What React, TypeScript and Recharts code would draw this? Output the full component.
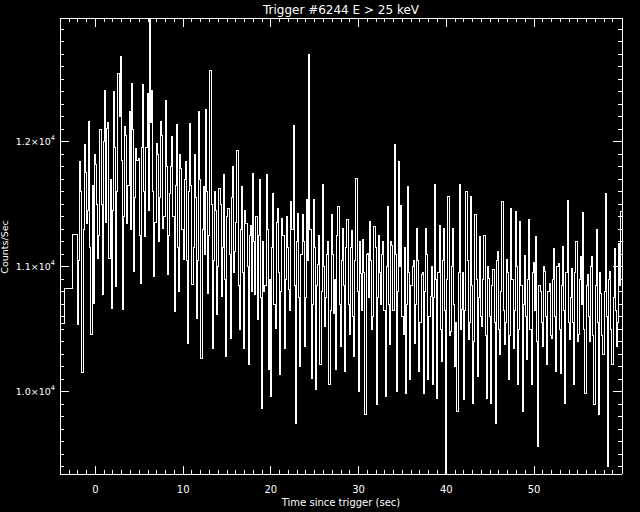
import React from 'react';
import { LineChart, Line, XAxis, YAxis } from 'recharts';

const FONT = '"DejaVu Sans", sans-serif';

// pre-trigger 1.024 s bins (start times) and their rates
const preTimes = [-4.608, -3.584, -2.56];
const preCounts = [10547, 10827, 11254];

// 0.128 s bins from -2.048 s on
const BIN_START = -2.048;
const BIN_WIDTH = 0.128;
const counts = [
  10533, 11050, 11840, 11600, 10152, 11300, 11974, 11750, 11347, 11450, 12165, 11150, 10453, 11650, 10707, 11900, 11814, 11500, 11067, 11250,
  12099, 11500, 10773, 12000, 12413, 11350, 12107, 12150, 11067, 11700, 10667, 11450, 12400, 11950, 10840, 11600, 12547, 12200, 12680, 11850,
  10653, 11400, 12120, 12050, 11347, 11650, 12240, 11300, 12467, 12100, 10960, 11550, 11947, 11850, 11867, 11250, 10867, 11950, 12454, 11600,
  11240, 11950, 12387, 11450, 12987, 12150, 12413, 11600, 10920, 11350, 11987, 11900, 11200, 11550, 12165, 12050, 11307, 11400, 12333, 11800,
  10934, 11250, 11582, 11800, 12040, 11400, 10640, 11650, 12134, 11150, 10800, 11900, 11787, 11300, 11053, 11700, 11840, 11050, 10387, 11600,
  12147, 11650, 10854, 11150, 11894, 11550, 10587, 11050, 12240, 11700, 10267, 11300, 11640, 11100, 12259, 11600, 10787, 11250, 12573, 11500,
  10347, 11050, 11600, 11450, 10614, 11000, 11627, 11500, 10760, 11150, 11739, 10900, 10280, 11400, 11467, 11100, 10427, 11550, 11800, 10950,
  11120, 11350, 11933, 10850, 10493, 11300, 11640, 10950, 10347, 11450, 11347, 11000, 10213, 11250, 11333, 10800, 11747, 11200, 10774, 11400,
  10574, 11250, 11694, 10750, 9867, 11200, 10800, 10850, 11741, 11300, 10173, 10900, 9960, 11150, 11582, 10700, 10507, 11350, 11467, 10950,
  10133, 10800, 11387, 11250, 10347, 10900, 11400, 11150, 10814, 10650, 11520, 11300, 12133, 10850, 9747, 11200, 11427, 10750, 10200, 11100,
  11414, 11200, 10360, 10750, 11534, 11050, 12694, 11300, 10107, 10700, 11534, 11150, 10013, 10850, 11013, 11250, 10213, 10800, 11659, 11000,
  10520, 10750, 11093, 11200, 10053, 10650, 11414, 11100, 10627, 10900, 10173, 11250, 11480, 10700, 10360, 11050, 11307, 10850, 10160, 11150,
  11381, 10700, 10453, 11150, 11293, 10600, 10280, 11050, 11707, 10800, 10000, 11200, 10947, 10650, 11221, 10950, 9814, 11100, 11107, 10750,
  11365, 11050, 10493, 10600, 11320, 11150, 9894, 10750, 11253, 10950, 10694, 11100, 11200, 10650, 9960, 11000, 11480, 10700, 10373, 11200,
  11173, 10650, 11974, 11100, 10000, 10800, 11840, 11000, 11493, 10600, 10453, 11150, 9987, 10700, 11645, 10950, 10094, 10850, 11000, 11050,
  10387, 10700, 11307, 11050, 10160, 10550, 10934, 10950, 9987, 10800, 11307, 11100, 10094, 10600, 10760, 11000, 10053, 10750, 11661, 10900,
  9947, 10950, 11333, 10500, 10240, 11050, 11307, 10650, 9345, 10900, 11560, 10450, 10480, 11000, 11307, 10700, 10200, 10550, 9840, 10950,
  11661, 10500, 10654, 10950, 9934, 10650, 11600, 11050, 10413, 10550, 11565, 10850, 9907, 10400, 11414, 10900, 10120, 10750, 11240, 10600,
  10520, 10900, 11253, 10450, 9947, 11000, 10907, 10600, 9907, 10850, 10974, 10550, 9747, 11050, 11120, 10500, 10293, 10800, 11520, 10650,
  10373, 10550, 11053, 10950, 10094, 10450, 11467, 10900, 10347, 10650, 11445, 11000, 10053, 10500, 11365, 10850, 9840, 10700, 11088, 10600,
  10253, 10900, 11381, 10500, 10053, 10950, 11035, 10650, 11240, 10400, 9560, 10850, 10800, 10550, 10360, 11000, 10960, 10600, 10213, 10800,
  10867, 10450, 10427, 10900, 11147, 10600, 10160, 11000, 11027, 10500, 10147, 10850, 11160, 10650, 9907, 10950, 11526, 10550, 10413, 10750,
  10987, 10550, 10053, 10950, 11200, 10400, 10454, 10900, 11080, 10700, 11432, 10500, 9987, 10850, 10934, 10600, 10400, 11000, 11080, 10450,
  9893, 10850, 11299, 10550, 9814, 10950, 10787, 10450, 10293, 10800, 11582, 10600, 9400, 10900, 10960, 10500, 10213, 10750, 11147, 10650,
  10360, 10550, 11187, 10850, 11440, 10700,
];

const X_DOMAIN = [-4.04, 60.03];
const Y_DOMAIN = [9340, 12990];
const xMajor = [0, 10, 20, 30, 40, 50];
const yMajor = [10000, 11000, 12000];

const range = (a: number, b: number, s: number) =>
  Array.from({ length: Math.round((b - a) / s) + 1 }, (_, i) => a + i * s);
const xMinor = range(-3, 59, 1);
const yMinor = range(9400, 12900, 100);

const data = [
  ...preTimes.map((t, i) => ({ t, v: preCounts[i] })),
  ...counts.map((v, i) => ({ t: BIN_START + i * BIN_WIDTH, v })),
  { t: BIN_START + counts.length * BIN_WIDTH, v: counts[counts.length - 1] },
];

// tick marks point into the plot; majors are longer, labels only on bottom/left
const XTick = ({ x, y, payload, side }: any) => {
  const major = xMajor.includes(payload.value);
  const len = major ? 8.5 : 4;
  const dir = side === 'top' ? 1 : -1;
  return (
    <g>
      <line x1={x} x2={x} y1={y} y2={y + dir * len} stroke="#fff" />
      {side === 'bottom' && major && (
        <text x={x} y={y + 19} textAnchor="middle" fill="#fff" fontSize={10} fontFamily={FONT}>
          {payload.value}
        </text>
      )}
    </g>
  );
};

const YTick = ({ x, y, payload, side }: any) => {
  const major = yMajor.includes(payload.value);
  const len = major ? 9 : 4;
  const dir = side === 'left' ? 1 : -1;
  return (
    <g>
      <line x1={x} x2={x + dir * len} y1={y} y2={y} stroke="#fff" />
      {side === 'left' && major && (
        <text x={x - 5} y={y + 3.5} textAnchor="end" fill="#fff" fontSize={9.5} fontFamily={FONT}>
          {(payload.value / 10000).toFixed(1)}×10
          <tspan dy={-5.5} fontSize={6.5}>4</tspan>
        </text>
      )}
    </g>
  );
};

const TitleLabel = () => (
  <text x={341} y={14} textAnchor="middle" fill="#fff" fontSize={12} fontFamily={FONT}>
    Trigger #6244 E &gt; 25 keV
  </text>
);

const YLabel = () => (
  <text x={8} y={247} transform="rotate(-90, 8, 247)" textAnchor="middle" fill="#fff" fontSize={9.5} fontFamily={FONT}>
    Counts/Sec
  </text>
);

export default function App() {
  return (
    <div style={{ position: 'absolute', left: 0, top: 0, width: 640, height: 512, background: '#000' }}>
      <LineChart
        width={640}
        height={512}
        data={data}
        margin={{ top: 0, right: 0, bottom: 0, left: 0 }}
        style={{ shapeRendering: 'crispEdges' }}
      >
        <XAxis
          xAxisId="x"
          orientation="bottom"
          type="number"
          dataKey="t"
          domain={X_DOMAIN}
          allowDataOverflow
          ticks={xMinor}
          interval={0}
          height={38}
          stroke="#fff"
          tickLine={false}
          tickSize={0}
          tickMargin={0}
          tick={<XTick side="bottom" />}
          label={{ value: 'Time since trigger (sec)', position: 'insideBottom', offset: 6, fill: '#fff', fontSize: 10, fontFamily: FONT }}
        />
        <XAxis
          xAxisId="xt"
          orientation="top"
          type="number"
          dataKey="t"
          domain={X_DOMAIN}
          allowDataOverflow
          ticks={xMinor}
          interval={0}
          height={18}
          stroke="#fff"
          tickLine={false}
          tickSize={0}
          tickMargin={0}
          tick={<XTick side="top" />}
          label={{ content: <TitleLabel /> }}
        />
        <YAxis
          yAxisId="y"
          orientation="left"
          type="number"
          domain={Y_DOMAIN}
          allowDataOverflow
          ticks={yMinor}
          interval={0}
          width={60}
          stroke="#fff"
          tickLine={false}
          tickSize={0}
          tickMargin={0}
          tick={<YTick side="left" />}
          label={{ content: <YLabel /> }}
        />
        <YAxis
          yAxisId="yr"
          orientation="right"
          type="number"
          domain={Y_DOMAIN}
          allowDataOverflow
          ticks={yMinor}
          interval={0}
          width={18}
          stroke="#fff"
          tickLine={false}
          tickSize={0}
          tickMargin={0}
          tick={<YTick side="right" />}
        />

        <Line
          xAxisId="x"
          yAxisId="y"
          dataKey="v"
          type="stepAfter"
          stroke="#fff"
          strokeWidth={1}
          dot={false}
          isAnimationActive={false}
        />
      </LineChart>
    </div>
  );
}
